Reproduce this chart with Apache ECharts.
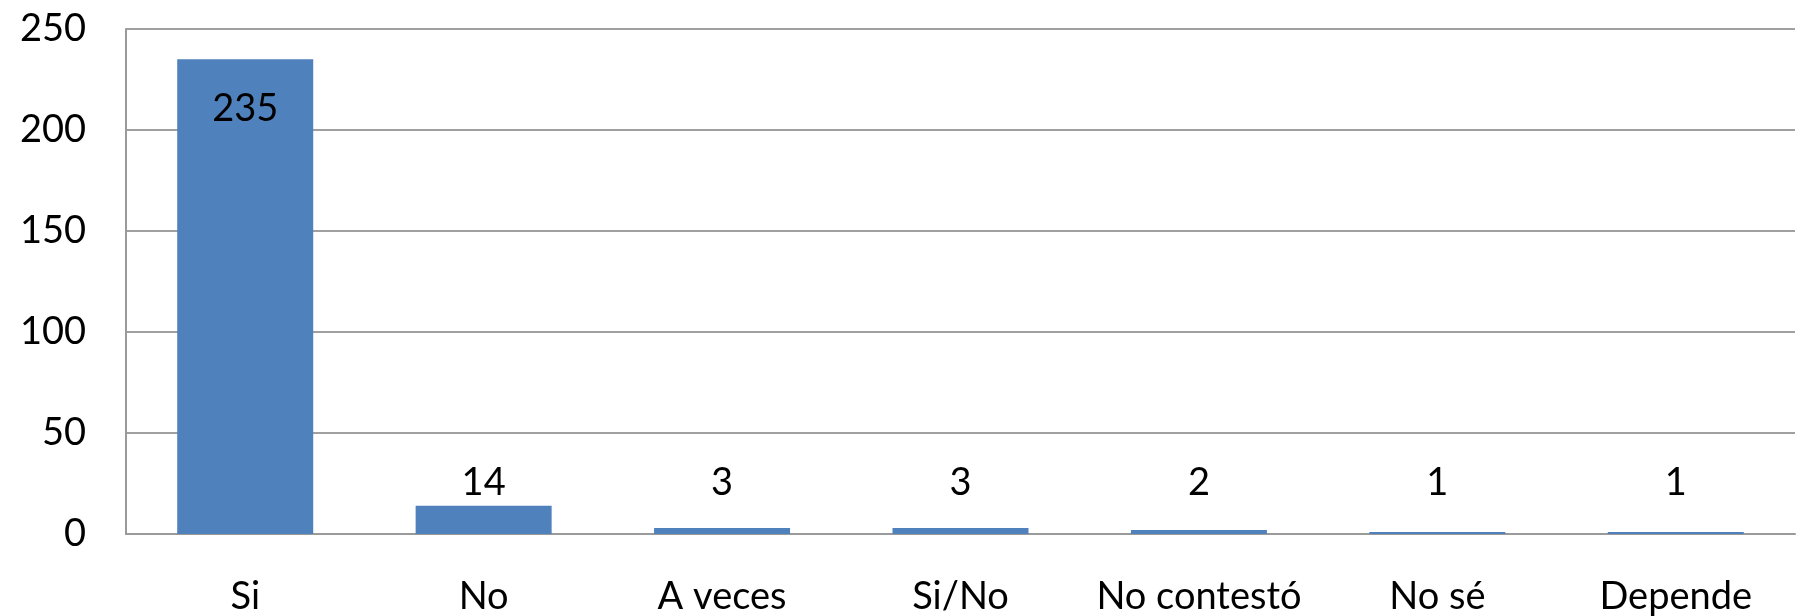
<!DOCTYPE html>
<html>
<head>
<meta charset="utf-8">
<script src="https://cdn.jsdelivr.net/npm/echarts@6/dist/echarts.min.js"></script>
<style>
html,body{margin:0;padding:0;background:#fff;}
#chart{width:1804px;height:616px;}
</style>
</head>
<body>
<div id="chart"></div>
<script>
const categories = ["Si", "No", "A veces", "Si/No", "No contestó", "No sé", "Depende"];
const values = [235, 14, 3, 3, 2, 1, 1];
const yTicks = [0, 50, 100, 150, 200, 250];

const chart = echarts.init(document.getElementById('chart'));
const font = 'Lato, "Open Sans", sans-serif';
// small-bar labels share one baseline, at the height of the tallest small bar (as in the reference)
const labelFloor = Math.max.apply(null, values.slice(1));
chart.setOption({
  animation: false,
  grid: {left: 126, right: 9, top: 29, bottom: 82},
  xAxis: {
    type: 'category',
    data: categories,
    axisLine: {show: true, lineStyle: {color: '#9a9a9a', width: 2}},
    axisTick: {show: false},
    axisLabel: {color: '#000', fontSize: 38, fontFamily: font, margin: 44, interval: 0}
  },
  yAxis: {
    type: 'value',
    min: yTicks[0],
    max: yTicks[yTicks.length - 1],
    interval: 50,
    axisLine: {show: true, lineStyle: {color: '#9a9a9a', width: 2}},
    axisTick: {show: false},
    axisLabel: {color: '#000', fontSize: 38, fontFamily: font, margin: 40},
    splitLine: {show: true, lineStyle: {color: '#a0a0a0', width: 2}}
  },
  series: [{
    type: 'bar',
    data: values.map((v, i) => ({
      value: v,
      label: i === 0 ? {position: 'insideTop', distance: 30} : {position: 'top', distance: 4}
    })),
    barWidth: 136,
    itemStyle: {color: '#4F81BD'},
    label: {show: true, color: '#000', fontSize: 38, fontFamily: font},
    labelLayout: function (params) {
      if (params.dataIndex === 0) return {};
      const p = chart.convertToPixel({seriesIndex: 0}, [params.dataIndex, labelFloor]);
      if (!p) return {};
      return {
        x: params.rect.x + params.rect.width / 2,
        y: p[1] - 4,
        align: 'center',
        verticalAlign: 'bottom'
      };
    }
  }]
});
</script>
</body>
</html>
